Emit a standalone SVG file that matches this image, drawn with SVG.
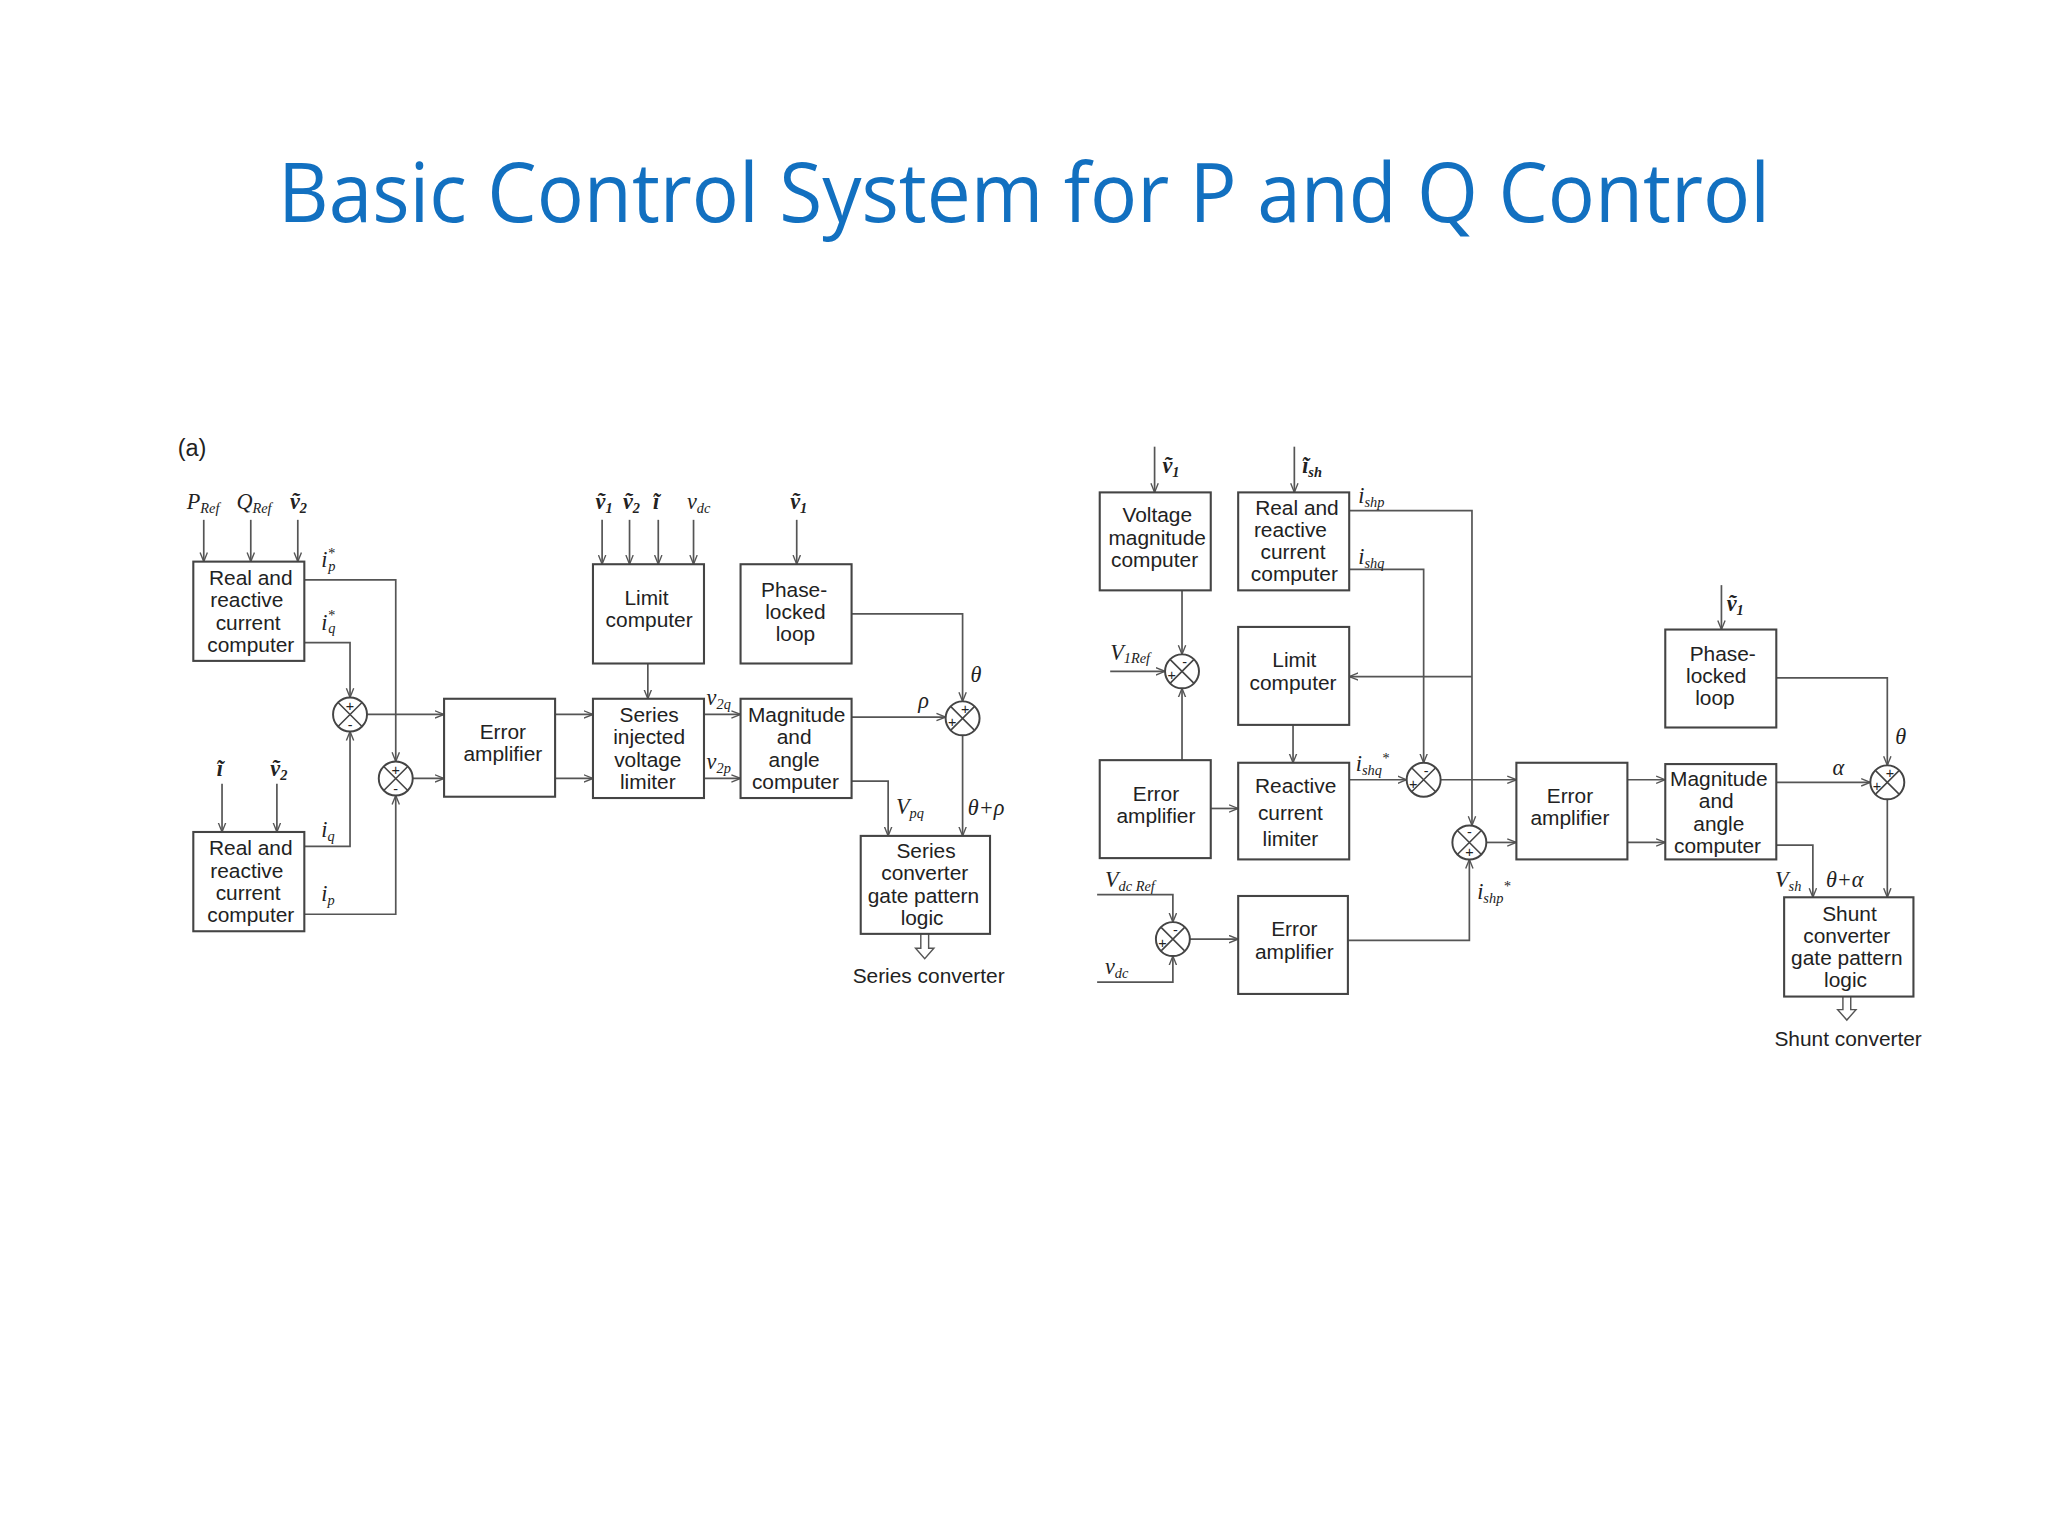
<svg xmlns="http://www.w3.org/2000/svg" width="2048" height="1536" viewBox="0 0 2048 1536">
<style>
.b{fill:#fff;stroke:#444;stroke-width:1.6}
.l{fill:none;stroke:#555;stroke-width:1.3}
.a{fill:none;stroke:#555;stroke-width:1.3;marker-end:url(#ar)}
.t{font-family:"Liberation Sans",Arial,sans-serif;font-size:16px;fill:#222;text-anchor:middle}
.v{font-family:"Liberation Serif","Times New Roman",serif;font-style:italic;font-size:17px;fill:#222}
.s{font-size:11px}
.c{fill:#fff;stroke:#444;stroke-width:1.5}
.x{stroke:#444;stroke-width:1.2}
.sg{font-family:"Liberation Sans",sans-serif;font-size:11px;fill:#222;text-anchor:middle}
.h{fill:#fff;stroke:#555;stroke-width:1.1}
</style>
<defs>
<marker id="ar" viewBox="0 0 10 10" refX="10" refY="5" markerWidth="7" markerHeight="7" orient="auto" markerUnits="userSpaceOnUse">
<path d="M0,1 L10,5 L0,9" fill="none" stroke="#555" stroke-width="1.5"/>
</marker>
<g id="sum"><circle class="c" r="13"/><path class="x" d="M-9,-9 L9,9 M9,-9 L-9,9"/></g>
</defs>
<rect width="2048" height="1536" fill="#fff"/>
<text x="1024" y="222" font-family="'Open Sans','Noto Sans',sans-serif" font-size="82" fill="#1270C0" text-anchor="middle" textLength="1492" lengthAdjust="spacingAndGlyphs">Basic Control System for P and Q Control</text>
<g transform="scale(1.3061)">
<text x="136" y="349" class="t" style="text-anchor:start;font-size:18px">(a)</text>

<g id="connectors">
<!-- left -->
<path class="a" d="M156,398 V430"/><path class="a" d="M192,398 V430"/><path class="a" d="M228,398 V430"/>
<path class="a" d="M170,600 V637"/><path class="a" d="M212,600 V637"/>
<path class="a" d="M233,444 H303 V583"/>
<path class="a" d="M233,492 H268 V534"/>
<path class="a" d="M233,648 H268 V560"/>
<path class="a" d="M233,700 H303 V609"/>
<path class="a" d="M281,547 H340"/><path class="a" d="M316,596 H340"/>
<path class="a" d="M425,547 H454"/><path class="a" d="M425,596 H454"/>
<path class="a" d="M461,398 V432"/><path class="a" d="M482,398 V432"/><path class="a" d="M504,398 V432"/><path class="a" d="M531,398 V432"/>
<path class="a" d="M496,508 V535"/>
<path class="a" d="M539,547 H567"/><path class="a" d="M539,596 H567"/>
<path class="a" d="M610,398 V432"/>
<path class="a" d="M652,470 H737 V537"/>
<path class="a" d="M652,549 H724"/>
<path class="a" d="M737,563 V640"/>
<path class="a" d="M652,598 H680 V640"/>
<path class="h" d="M705,715 V726 H701 L708,734 L715,726 H711 V715"/>
<!-- right -->
<path class="a" d="M884,342 V377"/><path class="a" d="M991,342 V377"/><path class="a" d="M1318,448 V482"/>
<path class="a" d="M1033,391 H1127 V632"/>
<path class="a" d="M1127,518 H1033"/>
<path class="a" d="M1033,436 H1090 V584"/>
<path class="a" d="M905,452 V501"/>
<path class="a" d="M850,514 H892"/>
<path class="a" d="M905,582 V527"/>
<path class="a" d="M927,619 H948"/>
<path class="a" d="M990,555 V584"/>
<path class="a" d="M1033,597 H1077"/>
<path class="a" d="M1103,597 H1161"/>
<path class="a" d="M1138,645 H1161"/>
<path class="a" d="M1032,720 H1125 V658"/>
<path class="a" d="M840,685 H898 V706"/>
<path class="a" d="M840,752 H898 V732"/>
<path class="a" d="M911,719 H948"/>
<path class="a" d="M1246,597 H1275"/><path class="a" d="M1246,645 H1275"/>
<path class="a" d="M1360,519 H1445 V586"/>
<path class="a" d="M1360,599 H1432"/>
<path class="a" d="M1445,612 V687"/>
<path class="a" d="M1360,647 H1388 V687"/>
<path class="h" d="M1411,763 V773 H1407 L1414,781 L1421,773 H1417 V763"/>
</g>

<g id="sums">
<use href="#sum" x="268" y="547"/><text class="sg" x="268" y="544">+</text><text class="sg" x="268" y="559">-</text>
<use href="#sum" x="303" y="596"/><text class="sg" x="303" y="593">+</text><text class="sg" x="303" y="608">-</text>
<use href="#sum" x="737" y="550"/><text class="sg" x="739" y="547">+</text><text class="sg" x="729" y="557">+</text>
<use href="#sum" x="905" y="514"/><text class="sg" x="907" y="511">-</text><text class="sg" x="897" y="521">+</text>
<use href="#sum" x="1090" y="597"/><text class="sg" x="1092" y="594">-</text><text class="sg" x="1082" y="604">+</text>
<use href="#sum" x="1125" y="645"/><text class="sg" x="1125" y="641">-</text><text class="sg" x="1125" y="656">+</text>
<use href="#sum" x="898" y="719"/><text class="sg" x="900" y="716">-</text><text class="sg" x="890" y="726">+</text>
<use href="#sum" x="1445" y="599"/><text class="sg" x="1447" y="596">+</text><text class="sg" x="1437" y="606">+</text>
</g>

<g id="rrc1"><rect class="b" x="148" y="430" width="85" height="76"/><text class="t"><tspan x="192" y="448">Real and</tspan><tspan x="189" y="465">reactive</tspan><tspan x="190" y="482">current</tspan><tspan x="192" y="499">computer</tspan></text></g>
<g id="rrc2"><rect class="b" x="148" y="637" width="85" height="76"/><text class="t"><tspan x="192" y="655">Real and</tspan><tspan x="189" y="672">reactive</tspan><tspan x="190" y="689">current</tspan><tspan x="192" y="706">computer</tspan></text></g>
<g id="err1"><rect class="b" x="340" y="535" width="85" height="75"/><text class="t"><tspan x="385" y="566">Error</tspan><tspan x="385" y="583">amplifier</tspan></text></g>
<g id="limit1"><rect class="b" x="454" y="432" width="85" height="76"/><text class="t"><tspan x="495" y="463">Limit</tspan><tspan x="497" y="480">computer</tspan></text></g>
<g id="sivl"><rect class="b" x="454" y="535" width="85" height="76"/><text class="t"><tspan x="497" y="553">Series</tspan><tspan x="497" y="570">injected</tspan><tspan x="496" y="587">voltage</tspan><tspan x="496" y="604">limiter</tspan></text></g>
<g id="pll1"><rect class="b" x="567" y="432" width="85" height="76"/><text class="t"><tspan x="608" y="457">Phase-</tspan><tspan x="609" y="474">locked</tspan><tspan x="609" y="491">loop</tspan></text></g>
<g id="mag1"><rect class="b" x="567" y="535" width="85" height="76"/><text class="t"><tspan x="610" y="553">Magnitude</tspan><tspan x="608" y="570">and</tspan><tspan x="608" y="587">angle</tspan><tspan x="609" y="604">computer</tspan></text></g>
<g id="scg"><rect class="b" x="659" y="640" width="99" height="75"/><text class="t"><tspan x="709" y="657">Series</tspan><tspan x="708" y="674">converter</tspan><tspan x="707" y="691">gate pattern</tspan><tspan x="706" y="708">logic</tspan></text></g>
<text class="t" x="711" y="753">Series converter</text>

<g id="vmc"><rect class="b" x="842" y="377" width="85" height="75"/><text class="t"><tspan x="886" y="400">Voltage</tspan><tspan x="886" y="417">magnitude</tspan><tspan x="884" y="434">computer</tspan></text></g>
<g id="rrc3"><rect class="b" x="948" y="377" width="85" height="75"/><text class="t"><tspan x="993" y="394">Real and</tspan><tspan x="988" y="411">reactive</tspan><tspan x="990" y="428">current</tspan><tspan x="991" y="445">computer</tspan></text></g>
<g id="limit2"><rect class="b" x="948" y="480" width="85" height="75"/><text class="t"><tspan x="991" y="511">Limit</tspan><tspan x="990" y="528">computer</tspan></text></g>
<g id="err2"><rect class="b" x="842" y="582" width="85" height="75"/><text class="t"><tspan x="885" y="613">Error</tspan><tspan x="885" y="630">amplifier</tspan></text></g>
<g id="rcl"><rect class="b" x="948" y="584" width="85" height="74"/><text class="t"><tspan x="992" y="607">Reactive</tspan><tspan x="988" y="628">current</tspan><tspan x="988" y="648">limiter</tspan></text></g>
<g id="err3"><rect class="b" x="948" y="686" width="84" height="75"/><text class="t"><tspan x="991" y="717">Error</tspan><tspan x="991" y="734">amplifier</tspan></text></g>
<g id="err4"><rect class="b" x="1161" y="584" width="85" height="74"/><text class="t"><tspan x="1202" y="615">Error</tspan><tspan x="1202" y="632">amplifier</tspan></text></g>
<g id="pll2"><rect class="b" x="1275" y="482" width="85" height="75"/><text class="t"><tspan x="1319" y="506">Phase-</tspan><tspan x="1314" y="523">locked</tspan><tspan x="1313" y="540">loop</tspan></text></g>
<g id="mag2"><rect class="b" x="1275" y="585" width="85" height="73"/><text class="t"><tspan x="1316" y="602">Magnitude</tspan><tspan x="1314" y="619">and</tspan><tspan x="1316" y="636">angle</tspan><tspan x="1315" y="653">computer</tspan></text></g>
<g id="shg"><rect class="b" x="1366" y="687" width="99" height="76"/><text class="t"><tspan x="1416" y="705">Shunt</tspan><tspan x="1414" y="722">converter</tspan><tspan x="1414" y="739">gate pattern</tspan><tspan x="1413" y="756">logic</tspan></text></g>
<text class="t" x="1415" y="801">Shunt converter</text>

<g id="labels">
<text class="v" x="143" y="390">P<tspan class="s" dy="3">Ref</tspan></text>
<text class="v" x="181" y="390">Q<tspan class="s" dy="3">Ref</tspan></text>
<text class="v" x="222" y="390" font-weight="bold">ṽ<tspan class="s" dy="3">2</tspan></text>
<text class="v" x="166" y="594" font-weight="bold">ĩ</text>
<text class="v" x="207" y="594" font-weight="bold">ṽ<tspan class="s" dy="3">2</tspan></text>
<text class="v" x="246" y="434">i<tspan class="s" dy="-7">*</tspan><tspan class="s" dx="-5" dy="10">p</tspan></text>
<text class="v" x="246" y="482">i<tspan class="s" dy="-7">*</tspan><tspan class="s" dx="-5" dy="10">q</tspan></text>
<text class="v" x="246" y="641">i<tspan class="s" dy="3">q</tspan></text>
<text class="v" x="246" y="690">i<tspan class="s" dy="3">p</tspan></text>
<text class="v" x="456" y="390" font-weight="bold">ṽ<tspan class="s" dy="3">1</tspan></text>
<text class="v" x="477" y="390" font-weight="bold">ṽ<tspan class="s" dy="3">2</tspan></text>
<text class="v" x="500" y="390" font-weight="bold">ĩ</text>
<text class="v" x="526" y="390">v<tspan class="s" dy="3">dc</tspan></text>
<text class="v" x="605" y="390" font-weight="bold">ṽ<tspan class="s" dy="3">1</tspan></text>
<text class="v" x="541" y="540">v<tspan class="s" dy="3">2q</tspan></text>
<text class="v" x="541" y="589">v<tspan class="s" dy="3">2p</tspan></text>
<text class="v" x="703" y="542">ρ</text>
<text class="v" x="743" y="522">θ</text>
<text class="v" x="741" y="624">θ+ρ</text>
<text class="v" x="686" y="623">V<tspan class="s" dy="3">pq</tspan></text>

<text class="v" x="890" y="362" font-weight="bold">ṽ<tspan class="s" dy="3">1</tspan></text>
<text class="v" x="997" y="362" font-weight="bold">ĩ<tspan class="s" dy="3">sh</tspan></text>
<text class="v" x="1322" y="468" font-weight="bold">ṽ<tspan class="s" dy="3">1</tspan></text>
<text class="v" x="1040" y="385">i<tspan class="s" dy="3">shp</tspan></text>
<text class="v" x="1040" y="432">i<tspan class="s" dy="3">shq</tspan></text>
<text class="v" x="1038" y="590">i<tspan class="s" dy="3">shq</tspan><tspan class="s" dy="-9">*</tspan></text>
<text class="v" x="1131" y="688">i<tspan class="s" dy="3">shp</tspan><tspan class="s" dy="-9">*</tspan></text>
<text class="v" x="850" y="505">V<tspan class="s" dy="3">1Ref</tspan></text>
<text class="v" x="846" y="679">V<tspan class="s" dy="3">dc Ref</tspan></text>
<text class="v" x="846" y="746">v<tspan class="s" dy="3">dc</tspan></text>
<text class="v" x="1403" y="593">α</text>
<text class="v" x="1451" y="570">θ</text>
<text class="v" x="1398" y="679">θ+α</text>
<text class="v" x="1359" y="679">V<tspan class="s" dy="3">sh</tspan></text>
</g>
</g>
</svg>
